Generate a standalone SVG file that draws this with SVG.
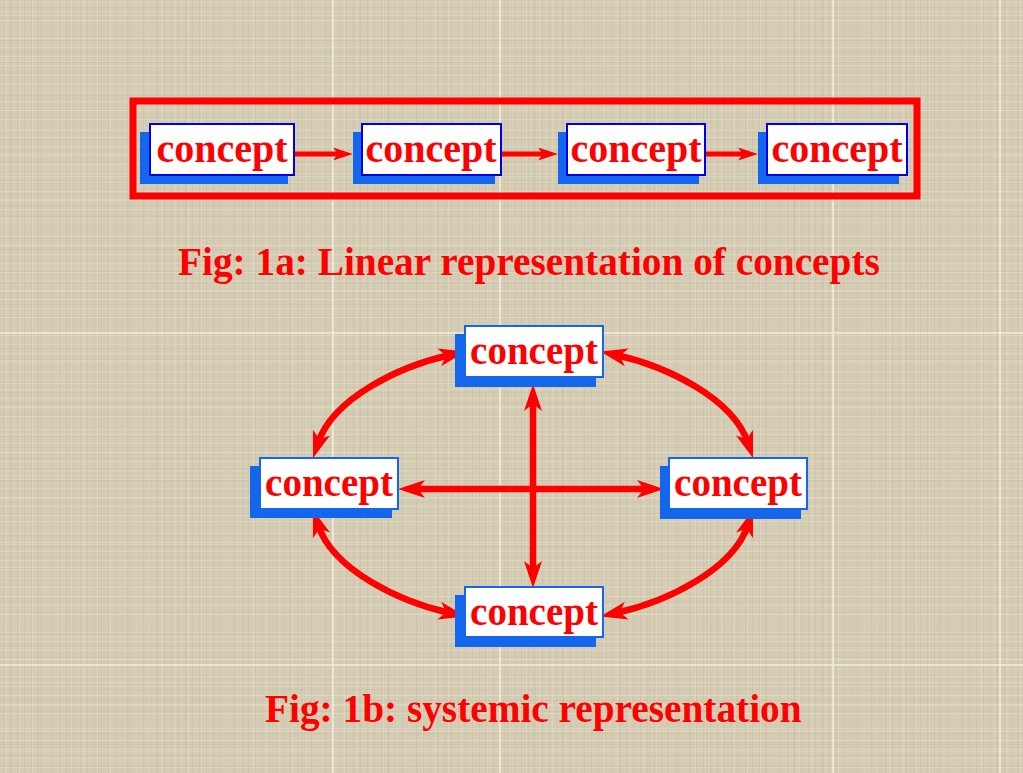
<svg xmlns="http://www.w3.org/2000/svg" width="1023" height="773" viewBox="0 0 1023 773">
  <style>
    .lbl { font-family: "Liberation Serif", "Times New Roman", serif; font-weight: bold; fill: #ff0000; text-anchor: middle; }
    .top { font-size: 40px; }
    .bot { font-size: 39px; }
    .title { font-family: "Liberation Serif", "Times New Roman", serif; font-weight: bold; fill: #ff0000; font-size: 39.3px; }
    .shadow { fill: #1466ec; }
    .boxA { fill: #ffffff; stroke: #0000e6; stroke-width: 2; }
    .boxB { fill: #ffffff; stroke: #1466ec; stroke-width: 2; }
    .lnA { fill: none; stroke: #ff0000; stroke-width: 5; marker-end: url(#arS); }
    .lnB { fill: none; stroke: #ff0000; stroke-width: 6.5; marker-start: url(#arL); marker-end: url(#arL); }
    .seam { stroke: #f3eee2; stroke-width: 1.5; }
  </style>
  <defs>
    <pattern id="tex1" width="7" height="9" patternUnits="userSpaceOnUse">
      <rect x="0" y="2" width="7" height="1" fill="#ece6d4" opacity="0.35"/>
      <rect x="3" y="0" width="1" height="9" fill="#b3a98f" opacity="0.18"/>
    </pattern>
    <pattern id="tex2" width="13" height="11" patternUnits="userSpaceOnUse">
      <rect x="6" y="0" width="1" height="11" fill="#ede7d6" opacity="0.3"/>
      <rect x="0" y="7" width="13" height="1" fill="#b0a68c" opacity="0.18"/>
    </pattern>
    <pattern id="tex3" width="29" height="23" patternUnits="userSpaceOnUse">
      <rect x="11" y="0" width="1" height="23" fill="#a99f86" opacity="0.15"/>
      <rect x="0" y="15" width="29" height="1" fill="#efe9d8" opacity="0.3"/>
    </pattern>
    <marker id="arS" markerUnits="userSpaceOnUse" markerWidth="22" markerHeight="14" refX="9" refY="7" orient="auto" overflow="visible">
      <path d="M0,0.5 L20,7 L0,13.5 L5,7 Z" fill="#ff0000"/>
    </marker>
    <marker id="arL" markerUnits="userSpaceOnUse" markerWidth="28" markerHeight="20" refX="11" refY="10" orient="auto-start-reverse" overflow="visible">
      <path d="M0,1 L27,10 L0,19 L7,10 Z" fill="#ff0000"/>
    </marker>
  </defs>

  <g id="background">
    <rect x="0" y="0" width="1023" height="773" fill="#d5ccb4"/>
    <rect x="0" y="0" width="1023" height="773" fill="url(#tex1)"/>
    <rect x="0" y="0" width="1023" height="773" fill="url(#tex2)"/>
    <rect x="0" y="0" width="1023" height="773" fill="url(#tex3)"/>
    <line class="seam" x1="333" y1="0" x2="333" y2="773"/>
    <line class="seam" x1="500" y1="0" x2="500" y2="773"/>
    <line class="seam" x1="833" y1="0" x2="833" y2="773"/>
    <line class="seam" x1="1000" y1="0" x2="1000" y2="773"/>
    <line class="seam" x1="0" y1="333" x2="1023" y2="333"/>
    <line class="seam" x1="0" y1="665" x2="1023" y2="665"/>
  </g>

  <g id="frame">
    <rect x="133" y="101" width="784" height="95" fill="none" stroke="#ff0000" stroke-width="7"/>
  </g>

  <g id="connectors">
    <path class="lnA" d="M294,154 L342,154"/>
    <path class="lnA" d="M501,154 L547,154"/>
    <path class="lnA" d="M705,154 L747,154"/>
    <path class="lnB" d="M533,400 L533,572"/>
    <path class="lnB" d="M414,489 L648,489"/>
    <path class="lnB" d="M450,355 C400,366 333,398 318,443"/>
    <path class="lnB" d="M616,355 C666,366 733,398 748,443"/>
    <path class="lnB" d="M318,525 C333,570 400,602 450,613"/>
    <path class="lnB" d="M748,525 C733,570 666,602 616,613"/>
  </g>

  <g id="lin1">
    <rect class="shadow" x="140" y="132" width="148" height="52"/>
    <rect class="boxA" x="150" y="124" width="144" height="51"/>
    <text class="lbl top" x="222" y="162">concept</text>
  </g>
  <g id="lin2">
    <rect class="shadow" x="353" y="132" width="142" height="52"/>
    <rect class="boxA" x="362" y="124" width="139" height="51"/>
    <text class="lbl top" x="431" y="162">concept</text>
  </g>
  <g id="lin3">
    <rect class="shadow" x="558" y="132" width="141" height="52"/>
    <rect class="boxA" x="567" y="124" width="138" height="51"/>
    <text class="lbl top" x="636" y="162">concept</text>
  </g>
  <g id="lin4">
    <rect class="shadow" x="758" y="132" width="141" height="52"/>
    <rect class="boxA" x="767" y="124" width="140" height="51"/>
    <text class="lbl top" x="837" y="162">concept</text>
  </g>

  <g id="title1">
    <text class="title" x="178" y="275">Fig: 1a: Linear representation of concepts</text>
  </g>

  <g id="sysTop">
    <rect class="shadow" x="455" y="334" width="141" height="53"/>
    <rect class="boxB" x="465" y="326" width="138" height="51"/>
    <text class="lbl bot" x="534" y="364">concept</text>
  </g>
  <g id="sysLeft">
    <rect class="shadow" x="250" y="466" width="142" height="52"/>
    <rect class="boxB" x="260" y="458" width="138" height="51"/>
    <text class="lbl bot" x="329" y="496">concept</text>
  </g>
  <g id="sysRight">
    <rect class="shadow" x="660" y="466" width="141" height="53"/>
    <rect class="boxB" x="669" y="458" width="138" height="51"/>
    <text class="lbl bot" x="738" y="496">concept</text>
  </g>
  <g id="sysBottom">
    <rect class="shadow" x="455" y="595" width="141" height="52"/>
    <rect class="boxB" x="465" y="587" width="138" height="50"/>
    <text class="lbl bot" x="534" y="625">concept</text>
  </g>

  <g id="title2">
    <text class="title" x="265" y="722">Fig: 1b: systemic representation</text>
  </g>
</svg>
